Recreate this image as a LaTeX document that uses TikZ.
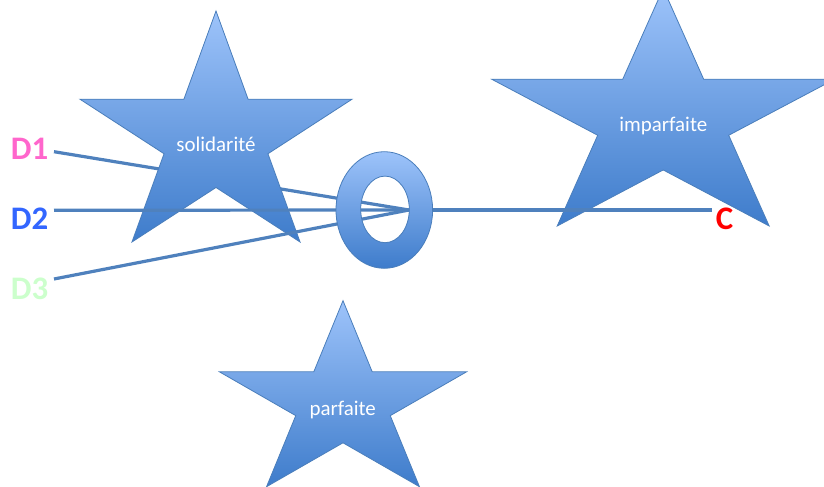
\documentclass[tikz,border=0pt]{standalone}
\usepackage{fontspec}
\setmainfont{Carlito}
\definecolor{startop}{RGB}{157,195,250}
\definecolor{starbot}{RGB}{62,124,203}
\definecolor{starline}{RGB}{74,126,187}
\definecolor{conn}{RGB}{79,129,189}
\definecolor{dpink}{RGB}{255,102,204}
\definecolor{dblue}{RGB}{51,102,255}
\definecolor{dgreen}{RGB}{204,255,204}
\tikzset{
  starshape/.style={draw=starline, line width=0.8bp, top color=startop, bottom color=starbot},
  conline/.style={draw=conn, line width=3.2bp},
  startext/.style={text=white, font=\fontsize{21}{25}\selectfont, anchor=base, inner sep=0pt},
  dlabel/.style={font=\fontsize{33}{39}\selectfont\bfseries, anchor=base west, inner sep=0pt},
}
\newcommand\drawmystar[4]{%
  \begin{scope}[shift={(#1,#2)},xscale=#3,yscale=#4]
    \path[starshape] (0.5,0) -- (0.618,0.382) -- (1,0.382) -- (0.691,0.618) -- (0.809,1)
      -- (0.5,0.764) -- (0.191,1) -- (0.309,0.618) -- (0,0.382) -- (0.382,0.382) -- cycle;
  \end{scope}}
\begin{document}
\begin{tikzpicture}[x=1bp,y=-1bp]
\useasboundingbox (0,0) rectangle (824,487);
% stars behind
\drawmystar{491.7}{-11.5}{343}{237.5}
\node[startext] (imp) at (663.3,131.7) {imparfaite};
\drawmystar{219.3}{300.7}{247.4}{186}
\node[startext] (par) at (342.7,415.3) {parfaite};
% labels
\node[dlabel, text=dpink] (d1) at (10.7,159.3) {D1};
\node[dlabel, text=dblue] (d2) at (10.7,230) {D2};
\node[dlabel, text=dgreen] (d3) at (10.7,300) {D3};
\node[dlabel, text=red] (c) at (715.7,230) {C};
\coordinate (hub) at (409,210);
\coordinate (d1s) at (54,151.7);
\coordinate (d2s) at (54,210.3);
\coordinate (d3s) at (54,279);
\coordinate (ce) at (711.7,210);
% D1 behind solidarite star
\draw[conline] (d1s) -- (hub);
\drawmystar{80}{11}{272}{231}
\node[startext] (sol) at (216,151.7) {solidarité};
\draw[conline] (d2s) -- (hub);
\draw[conline] (d3s) -- (hub);
\draw[conline] (hub) -- (ce);
% ring
\path[starshape, even odd rule] (384.3,210) ellipse [x radius=48.3, y radius=58.3]
  (385,209.4) ellipse [x radius=24.3, y radius=33.3];
\end{tikzpicture}
\end{document}
